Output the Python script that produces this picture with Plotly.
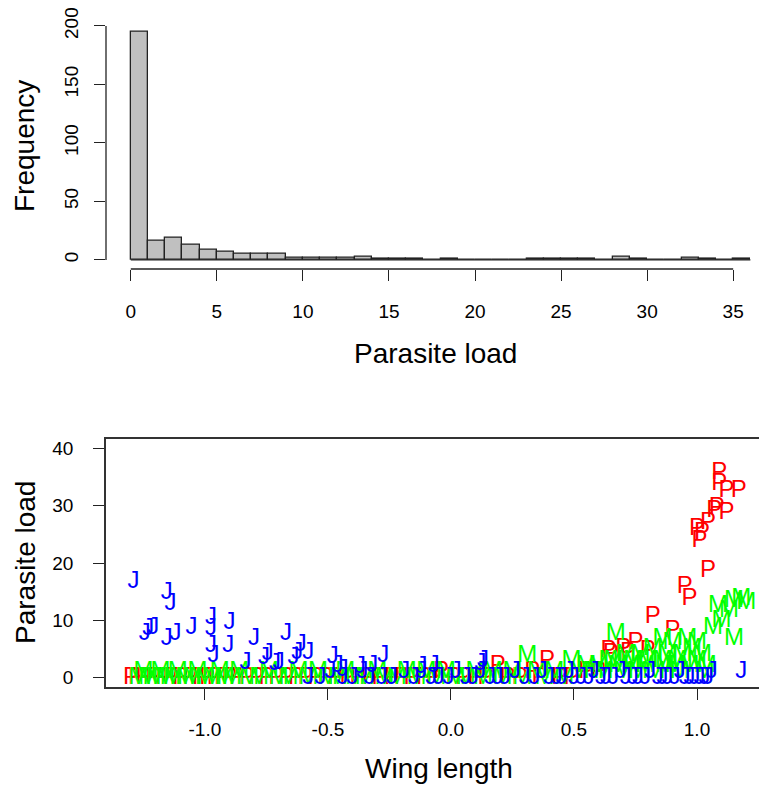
import plotly.graph_objects as go

# ---- histogram of parasite load (counts per 1-unit bin) ----
hist_breaks = list(range(0, 37))
hist_counts = [195, 16, 19, 13, 9, 7, 5, 5, 5, 2, 2, 2, 2, 3, 1, 1, 1, 0,
               1, 0, 0, 0, 0, 1, 1, 1, 1, 0, 3, 1, 0, 0, 2, 1, 0, 1]
hist_xticks = [0, 5, 10, 15, 20, 25, 30, 35]
hist_yticks = [0, 50, 100, 150, 200]

# ---- scatter: wing length vs parasite load, labelled by group ----
wing_P = [-1.30, -1.28, -1.25, -1.21, -1.17, -1.14, -1.10, -1.06, -1.02, -0.99,
          -0.96, -0.93, -0.90, -0.87, -0.83, -0.79, -0.75, -0.71, -0.67, -0.63,
          -0.59, -0.55, -0.51, -0.47, -0.42, -0.38, -0.33, -0.29, -0.24, -0.20,
          -0.16, -0.11, -0.07, -0.04, 0.01, 0.05, 0.10, 0.14, 0.19, 0.23,
          0.28, 0.33, 0.36, 0.39, 0.44, 0.49, 0.55, 0.60,
          0.64, 0.65, 0.70, 0.72, 0.75, 0.80, 0.82, 0.90, 0.95, 0.97,
          1.045, 1.09, 1.09, 1.12, 1.17, 1.08, 1.07, 1.12, 1.045, 1.00, 1.02, 1.01]
load_P = [0, 0, 0, 0, 0, 0, 0, 0, 0, 0,
          0, 0, 0, 0, 0, 0, 0, 0, 0, 0,
          0, 0, 0, 0, 0, 0, 0, 0, 0, 0,
          0, 0, 0, 1, 0, 0, 0, 0, 2, 0,
          0, 1, 0, 3, 0, 0, 1, 1,
          4.7, 4.2, 5.0, 4.4, 6.1, 4.7, 10.6, 8.2, 15.8, 13.8,
          18.6, 35.7, 33.8, 32.6, 32.6, 29.6, 29.1, 28.7, 27.0, 26.0, 25.3, 23.9]

wing_M = [-1.27, -1.25, -1.23, -1.20, -1.18, -1.16, -1.13, -1.11, -1.08, -1.05,
          -1.03, -1.00, -0.97, -0.94, -0.92, -0.89, -0.86, -0.82, -0.78, -0.74,
          -0.70, -0.66, -0.62, -0.58, -0.54, -0.50, -0.46, -0.43, -0.39, -0.35,
          -0.30, -0.27, -0.22, -0.18, -0.14, -0.10, -0.06, -0.02, 0.02, 0.06,
          0.10, 0.13, 0.17, 0.21, 0.25, 0.29, 0.31, 0.35, 0.38, 0.42,
          0.46, 0.49, 0.52, 0.55, 0.58,
          0.60, 0.62, 0.64, 0.67, 0.66, 0.68, 0.70, 0.71, 0.73, 0.74,
          0.76, 0.77, 0.79, 0.80, 0.82, 0.83, 0.86, 0.86, 0.87, 0.88,
          0.90, 0.91, 0.92, 0.93, 0.94, 0.96, 0.97, 0.98, 1.00, 1.00,
          1.02, 1.03, 1.04, 1.065, 1.085, 1.10, 1.13, 1.15, 1.15, 1.18, 1.20]
load_M = [0, 1, 0, 0, 1, 0, 0, 1, 0, 0,
          1, 0, 0, 1, 0, 0, 1, 0, 0, 1,
          0, 0, 1, 0, 1, 0, 0, 1, 0, 0,
          1, 0, 0, 1, 0, 1, 0, 1, 0, 0,
          1, 0, 1, 0, 1, 0, 3.8, 1, 0, 1,
          0, 3.0, 1, 2, 1,
          2, 1, 3, 7.7, 3, 2, 1, 4, 2, 3,
          1, 4, 2, 3, 5, 1, 6.8, 3, 2, 4,
          6.1, 2, 3, 1, 4, 6.8, 2, 5, 6.1, 3,
          4, 1, 2, 8.7, 12.5, 9.9, 11.7, 13.4, 6.8, 13.8, 13.0]

wing_J = [-1.29, -1.155, -1.14, -1.245, -1.23, -1.21, -1.155, -1.12, -1.055, -0.975,
          -0.975, -0.975, -0.965, -0.90, -0.905, -0.835, -0.80, -0.76, -0.745, -0.715,
          -0.70, -0.67, -0.64, -0.625, -0.61, -0.58, -0.48, -0.46, -0.44, -0.37,
          -0.32, -0.275, -0.12, -0.07, 0.12, 0.13,
          -0.58, -0.53, -0.49, -0.44, -0.40, -0.36, -0.33, -0.28, -0.24, -0.19,
          -0.15, -0.12, -0.08, -0.05, -0.01, 0.02, 0.06, 0.09, 0.12, 0.16,
          0.19, 0.22, 0.26, 0.30, 0.34, 0.37, 0.40, 0.43, 0.45, 0.48,
          0.50, 0.53, 0.56, 0.58, 0.61, 0.63, 0.66, 0.69, 0.71, 0.74,
          0.76, 0.79, 0.81, 0.84, 0.86, 0.88, 0.91, 0.93, 0.95, 0.97,
          0.99, 1.01, 1.03, 1.045, 1.06, 1.18]
load_J = [16.7, 14.8, 12.9, 7.7, 8.5, 8.7, 6.8, 7.7, 8.7, 10.5,
          8.5, 5.6, 3.8, 9.6, 5.6, 2.6, 6.8, 3.5, 4.2, 2.4,
          2.6, 7.7, 3.4, 4.4, 5.8, 4.4, 3.6, 2.0, 1.4, 1.8,
          2.0, 3.8, 1.8, 2.1, 2.4, 3.0,
          0, 0, 1, 0, 0, 1, 0, 0, 0, 1,
          0, 1, 0, 0, 0, 1, 0, 0, 1, 0,
          0, 0, 1, 0, 0, 1, 0, 0, 0, 1,
          0, 0, 0, 1, 0, 0, 0, 1, 0, 0,
          0, 0, 1, 0, 0, 0, 0, 1, 0, 0,
          0, 0, 0, 0, 1, 1]

wing_ticks = [-1.0, -0.5, 0.0, 0.5, 1.0]
wing_ticktext = ["-1.0", "-0.5", "0.0", "0.5", "1.0"]
load_ticks = [0, 10, 20, 30, 40]

FONT = "Liberation Sans, Arial, sans-serif"
W, H = 759, 785


def px(v):
    return v / W


def py(v):
    return 1 - v / H


fig = go.Figure()

bin_mid = [(a + b) / 2 for a, b in zip(hist_breaks[:-1], hist_breaks[1:])]
fig.add_trace(go.Bar(x=bin_mid, y=hist_counts, width=1,
                     marker=dict(color="#C0C0C0", line=dict(color="#222", width=1.3)),
                     xaxis="x", yaxis="y", showlegend=False, hoverinfo="skip"))

groups = [("P", wing_P, load_P, "#FF0000"),
          ("M", wing_M, load_M, "#00FF00"),
          ("J", wing_J, load_J, "#0000FF")]
for lab, xs, ys, col in groups:
    fig.add_trace(go.Scatter(x=xs, y=ys, mode="text", text=[lab] * len(xs),
                             textposition="middle center",
                             textfont=dict(family=FONT, size=24, color=col),
                             xaxis="x2", yaxis="y2", showlegend=False))

tick_common = dict(ticks="outside", ticklen=11, tickwidth=1.3, tickcolor="#222",
                   showgrid=False, zeroline=False, automargin=False,
                   tickfont=dict(family=FONT, size=19, color="#000"))


def title(text, x, y, angle=0):
    return dict(text=text, xref="paper", yref="paper", x=px(x), y=py(y),
                xanchor="center", yanchor="middle", textangle=angle, showarrow=False,
                font=dict(family=FONT, size=28, color="#000"))


fig.update_layout(
    width=W, height=H,
    margin=dict(l=0, r=0, t=0, b=0, pad=0, autoexpand=False),
    plot_bgcolor="white", paper_bgcolor="white",
    bargap=0,
    xaxis=dict(domain=[px(106), 1], range=[-1.44, 36.5], tickvals=hist_xticks,
               showline=False, anchor="y", ticklabelstandoff=14, **tick_common),
    yaxis=dict(domain=[py(269), py(22.7)], range=[-7.8, 202.8], tickvals=hist_yticks,
               tickangle=-90, showline=False, anchor="x", ticklabelstandoff=8,
               **tick_common),
    xaxis2=dict(domain=[px(106), 1], range=[-1.402, 1.252], tickvals=wing_ticks,
                ticktext=wing_ticktext, showline=True, mirror=True, linecolor="#333",
                linewidth=1.5, anchor="y2", ticklabelstandoff=13, **tick_common),
    yaxis2=dict(domain=[py(687), py(439)], range=[-1.6, 41.6], tickvals=load_ticks,
                showline=True, linecolor="#333", linewidth=1.5, anchor="x2",
                ticklabelstandoff=16, **tick_common),
    shapes=[
        dict(type="line", xref="x", yref="y domain", x0=hist_xticks[0], x1=hist_xticks[-1],
             y0=0, y1=0, line=dict(color="#222", width=1.3)),
        dict(type="line", xref="x domain", yref="y", x0=0, x1=0, y0=hist_yticks[0],
             y1=hist_yticks[-1], line=dict(color="#222", width=1.3)),
        dict(type="line", xref="x", yref="y", x0=hist_breaks[0], x1=hist_breaks[-1],
             y0=0, y1=0, line=dict(color="#222", width=1.3)),
    ],
    annotations=[
        title("Frequency", 25, 146, -90),
        title("Parasite load", 435, 353),
        title("Parasite load", 25, 563, -90),
        title("Wing length", 439, 768),
    ],
)

fig.write_html("out.html", config={"displayModeBar": False},
               post_script="document.body.style.margin='0';"
                           "document.body.style.overflow='hidden';")
